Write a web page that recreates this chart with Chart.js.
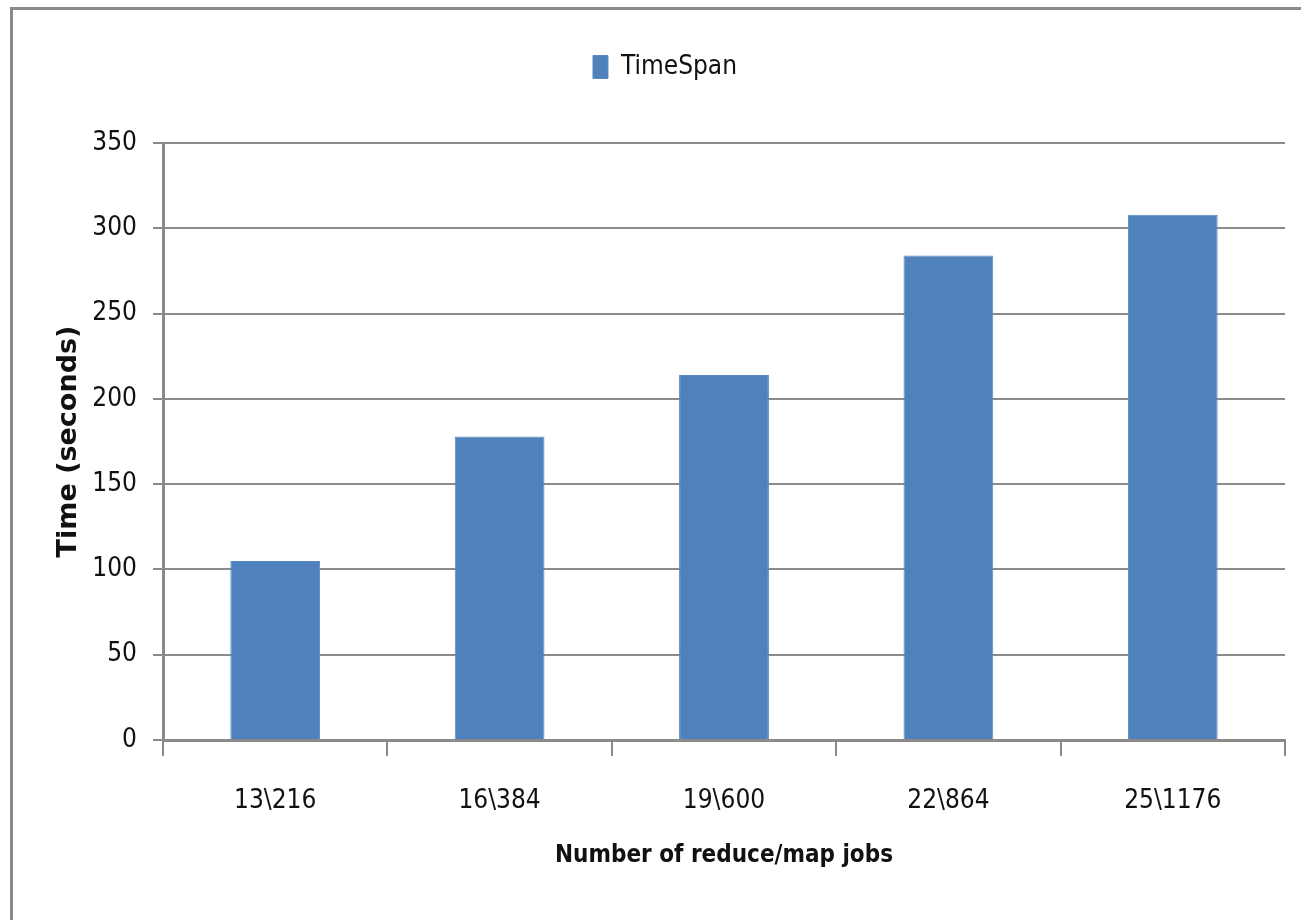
<!DOCTYPE html>
<html>
<head>
<meta charset="utf-8">
<script src="https://cdn.jsdelivr.net/npm/chart.js@4.4.0/dist/chart.umd.min.js"></script>
<style>
  html, body { margin: 0; padding: 0; background: #fff; }
  #frame {
    position: absolute; left: 10px; top: 7px; right: 0; bottom: 0;
    border-top: 3px solid #8a8a8a; border-left: 3px solid #8a8a8a;
  }
  #wrap { position: absolute; left: 0; top: 0; width: 1301px; height: 920px; }
</style>
</head>
<body>
<div id="frame"></div>
<div id="wrap"><canvas id="mainChart" width="1301" height="920"></canvas></div>
<script>
const jobLabels = ['13\\216', '16\\384', '19\\600', '22\\864', '25\\1176'];
const timeSpan = [105, 178, 214, 284, 308];
const yTicks = [0, 50, 100, 150, 200, 250, 300, 350];

const NARROW = '"Liberation Sans Narrow", "DejaVu Sans Condensed", sans-serif';
const BOLD = '"DejaVu Sans Condensed", "Liberation Sans Narrow", sans-serif';

// leave a wide gap between the legend and the plot
const legendGap = {
    id: 'legendGap',
    beforeLayout(chart) {
        const lg = chart.legend;
        if (lg && !lg._gapped) {
            const fit = lg.fit.bind(lg);
            lg.fit = function () { fit(); this.height = 99; };
            lg._gapped = true;
        }
    }
};

function initChart() {
    const ctx = document.getElementById('mainChart').getContext('2d');
    return new Chart(ctx, {
        type: 'bar',
        data: {
            labels: jobLabels,
            datasets: [{
                label: 'TimeSpan',
                data: timeSpan,
                backgroundColor: '#4f81bd',
                borderColor: '#5b8ac4',
                borderWidth: 1,
                categoryPercentage: 0.4,
                barPercentage: 1.0
            }]
        },
        options: {
            responsive: false,
            animation: false,
            layout: { padding: { left: 45, right: 16, top: 44, bottom: 30 } },
            plugins: {
                tooltip: { enabled: false },
                legend: {
                    position: 'top',
                    labels: {
                        boxWidth: 15, boxHeight: 23, padding: 10,
                        color: '#111',
                        font: { family: NARROW, size: 26 }
                    }
                }
            },
            scales: {
                x: {
                    grid: {
                        offset: true, drawOnChartArea: false, drawTicks: true,
                        tickLength: 16, color: '#8a8a8a', lineWidth: 2
                    },
                    border: { color: '#8a8a8a', width: 3 },
                    ticks: { color: '#111', font: { family: NARROW, size: 26 }, padding: 30 },
                    title: {
                        display: true, text: 'Number of reduce/map jobs', color: '#111',
                        font: { family: BOLD, size: 24, weight: 'bold' },
                        padding: { top: 0, bottom: 20 }
                    },
                    afterFit: s => { s.height = 150; }
                },
                y: {
                    min: 0, max: 350,
                    afterBuildTicks: s => { s.ticks = yTicks.map(v => ({ value: v })); },
                    grid: { color: '#8a8a8a', lineWidth: 2, tickLength: 10 },
                    border: { color: '#8a8a8a', width: 3 },
                    ticks: { color: '#111', font: { family: NARROW, size: 26 }, padding: 16 },
                    title: {
                        display: true, text: 'Time (seconds)', color: '#111',
                        font: { family: '"DejaVu Sans", sans-serif', size: 27, weight: 'bold' },
                        padding: { top: 8, bottom: 0 }
                    },
                    afterFit: s => { s.width = 118; }
                }
            }
        },
        plugins: [legendGap]
    });
}

const chart = initChart();
</script>
</body>
</html>
